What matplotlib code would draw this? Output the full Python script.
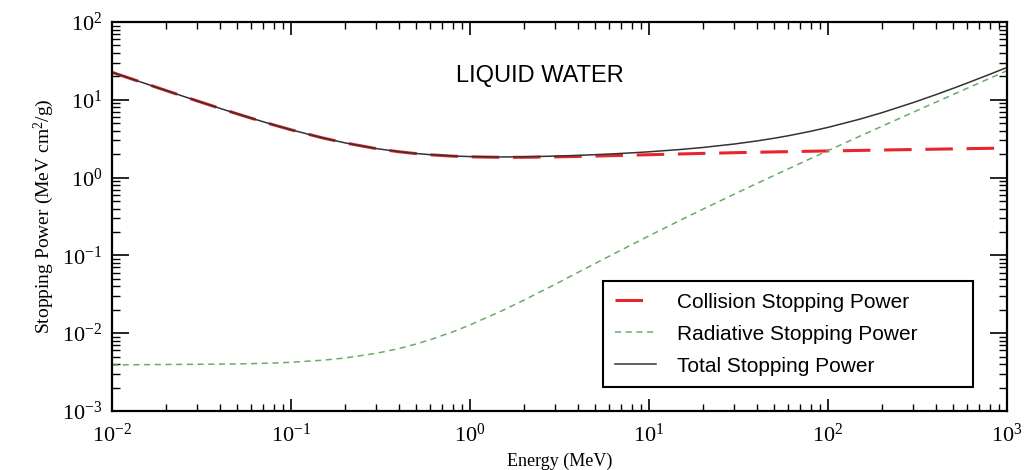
import matplotlib
matplotlib.use('Agg')
from matplotlib import pyplot as plt
from matplotlib.ticker import LogLocator, NullFormatter

# electron stopping power in liquid water (MeV cm^2/g)
energy = [0.01, 0.015, 0.02, 0.03, 0.04, 0.05, 0.06, 0.08, 0.1, 0.15, 0.2, 0.3, 0.4,
          0.5, 0.6, 0.8, 1, 1.5, 2, 3, 4, 5, 6, 8, 10, 15, 20, 30, 40, 50, 60, 80,
          100, 150, 200, 300, 400, 500, 600, 800, 1000]
collision = [22.56, 16.47, 13.17, 9.653, 7.777, 6.603, 5.797, 4.757, 4.115, 3.238,
             2.793, 2.355, 2.148, 2.034, 1.963, 1.886, 1.849, 1.822, 1.824, 1.846,
             1.870, 1.892, 1.911, 1.943, 1.968, 2.014, 2.046, 2.089, 2.118, 2.139,
             2.156, 2.182, 2.201, 2.236, 2.261, 2.296, 2.320, 2.339, 2.355, 2.378, 2.399]
radiative = [0.003898, 0.003944, 0.003963, 0.003984, 0.004005, 0.004031, 0.004062,
             0.004138, 0.004228, 0.004494, 0.004801, 0.005514, 0.006339, 0.007257,
             0.008245, 0.01040, 0.01276, 0.01931, 0.02658, 0.04264, 0.06016, 0.07859,
             0.09768, 0.1374, 0.1783, 0.2840, 0.3925, 0.6141, 0.8391, 1.066, 1.295,
             1.756, 2.220, 3.389, 4.566, 6.933, 9.309, 11.69, 14.08, 18.86, 23.65]
total = [22.564, 16.474, 13.174, 9.657, 7.781, 6.607, 5.801, 4.761, 4.119, 3.242,
         2.798, 2.361, 2.154, 2.041, 1.971, 1.896, 1.862, 1.841, 1.851, 1.889, 1.930,
         1.971, 2.008, 2.080, 2.146, 2.298, 2.439, 2.703, 2.957, 3.205, 3.451, 3.938,
         4.421, 5.625, 6.827, 9.229, 11.63, 14.03, 16.44, 21.24, 26.05]

plt.rcParams['font.family'] = 'serif'
plt.rcParams['font.serif'] = ['Liberation Serif', 'DejaVu Serif']
plt.rcParams['mathtext.fontset'] = 'custom'
plt.rcParams['mathtext.rm'] = 'Liberation Serif'
plt.rcParams['mathtext.it'] = 'Liberation Serif:italic'

W, H = 1034, 470
fig = plt.figure(figsize=(W / 100, H / 100), dpi=100)
ax = fig.add_axes([112 / W, (H - 411) / H, (1007 - 112) / W, (411 - 22) / H])

ax.plot(energy, collision, color='#e8262a', lw=2.2, dashes=(9, 4.5),
        label='Collision Stopping Power')
ax.plot(energy, radiative, color='#6aaa6a', lw=1.1, dashes=(4, 3),
        label='Radiative Stopping Power')
ax.plot(energy, total, color='#333333', lw=1.1, label='Total Stopping Power')

ax.set_xscale('log')
ax.set_yscale('log')
ax.set_xlim(1e-2, 1e3)
ax.set_ylim(1e-3, 1e2)

ax.xaxis.set_major_locator(LogLocator(base=10, numticks=10))
ax.yaxis.set_major_locator(LogLocator(base=10, numticks=10))
ax.xaxis.set_minor_locator(LogLocator(base=10, subs=range(2, 10), numticks=20))
ax.yaxis.set_minor_locator(LogLocator(base=10, subs=range(2, 10), numticks=20))
ax.xaxis.set_minor_formatter(NullFormatter())
ax.yaxis.set_minor_formatter(NullFormatter())

ax.tick_params(which='both', direction='in', top=True, right=True, labelsize=16)
ax.tick_params(axis='x', which='major', length=9, width=1.2, pad=9)
ax.tick_params(axis='x', which='minor', length=5, width=1)
ax.tick_params(axis='y', which='major', length=12, width=1.2, pad=7)
ax.tick_params(axis='y', which='minor', length=6, width=1)
for s in ax.spines.values():
    s.set_linewidth(1.6)

ax.set_xlabel('Energy (MeV)', fontsize=13, labelpad=4)
ax.set_ylabel('Stopping Power (MeV cm$^2$/g)', fontsize=14, labelpad=4)

ax.text(0.478, 0.861, 'LIQUID WATER', transform=ax.transAxes, ha='center', va='center',
        fontsize=17, family='Liberation Sans')

leg = ax.legend(loc='lower left', bbox_to_anchor=(0.549, 0.0617, 0.413, 0.28),
                mode='expand', borderaxespad=0, fancybox=False, framealpha=1,
                edgecolor='black', prop={'family': 'Liberation Sans', 'size': 15},
                labelspacing=0.62, borderpad=0.55, handlelength=2.0, handletextpad=1.0)
leg.get_frame().set_linewidth(1.5)

fig.savefig('out.png', dpi=100)
